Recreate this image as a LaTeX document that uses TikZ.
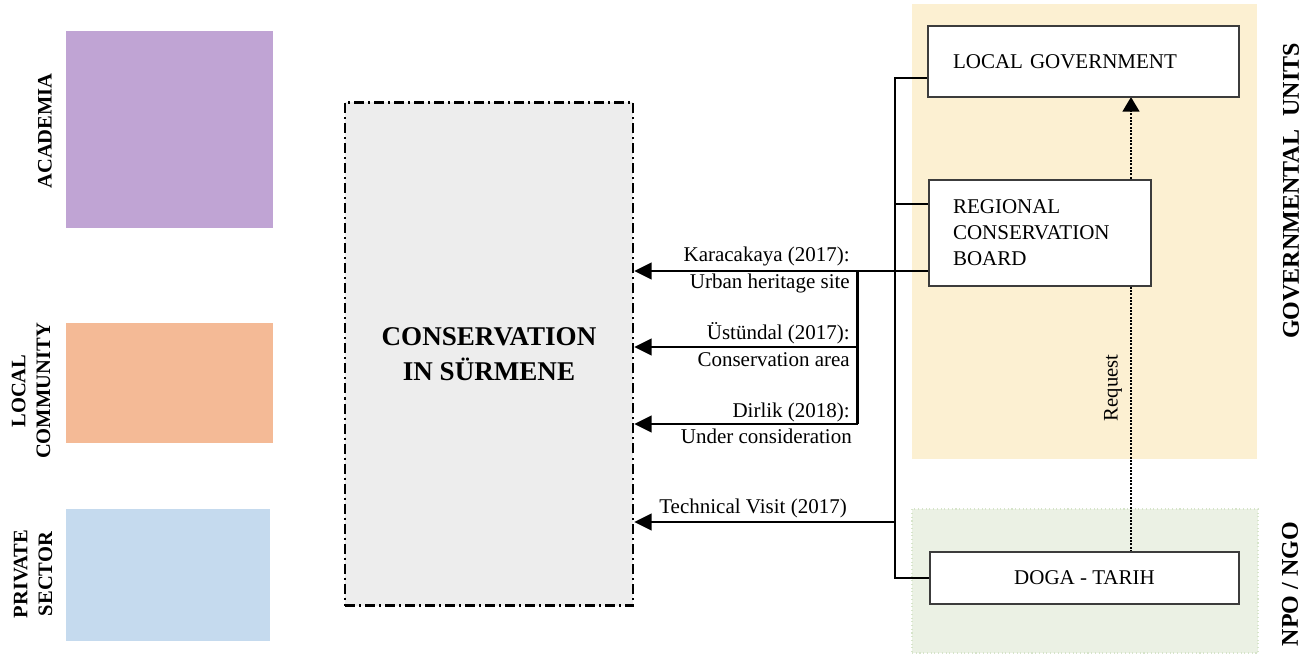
\documentclass[tikz,border=0pt]{standalone}
\usepackage{fontspec}
\setmainfont{Liberation Serif}
\usetikzlibrary{arrows.meta,calc}
\newdimen\pxu \pxu=0.75pt
\definecolor{acadC}{RGB}{192,164,212}
\definecolor{commC}{RGB}{244,186,150}
\definecolor{privC}{RGB}{197,218,238}
\definecolor{consC}{RGB}{237,237,237}
\definecolor{govC}{RGB}{252,240,210}
\definecolor{npoC}{RGB}{235,241,228}
\definecolor{npoLine}{RGB}{214,228,202}
\definecolor{boxLine}{RGB}{60,60,60}
\tikzset{
  actor/.style={draw=none, inner sep=0pt},
  sidelbl/.style={rotate=90, align=center, font=\fontsize{15.4}{18.5}\selectfont\bfseries},
  grouplbl/.style={rotate=90, font=\fontsize{18}{21}\selectfont\bfseries},
  unitbox/.style={draw=boxLine, line width=0.8pt, fill=white, align=left,
    font=\fontsize{15.75}{19.5}\selectfont},
  conn/.style={line width=1.8pt, draw=black},
  arr/.style={conn, -{Triangle[length=13pt,width=12.5pt]}},
  req/.style={line width=2pt, dash pattern=on 1.5pt off 1pt,
    -{Triangle[length=11pt,width=12.5pt]}},
  note/.style={font=\fontsize{15.75}{19}\selectfont, inner sep=0pt}
}
\begin{document}
\begin{tikzpicture}[x=0.75pt, y=-0.75pt]
\useasboundingbox (0,0) rectangle (1309,655);

% stakeholder blocks on the left
\node[actor, fill=acadC, minimum width=207\pxu, minimum height=197\pxu] (acad) at (169.5,129.5) {};
\node[actor, fill=commC, minimum width=207\pxu, minimum height=120\pxu] (comm) at (169.5,383) {};
\node[actor, fill=privC, minimum width=204\pxu, minimum height=132\pxu] (priv) at (168,575) {};
\node[sidelbl] (acadL) at (45,131) {ACADEMIA};
\node[sidelbl] (commL) at (31,391) {LOCAL\\COMMUNITY};
\node[sidelbl] (privL) at (33,574) {PRIVATE\\SECTOR};

% central subject
\node[draw=black, fill=consC, line width=2pt,
      dash pattern=on 7.5pt off 3pt on 1.5pt off 3pt,
      minimum width=288\pxu, minimum height=503\pxu, align=center,
      font=\fontsize{20.3}{26}\selectfont\bfseries] (cons) at (489,354)
      {CONSERVATION\\IN SÜRMENE};

% institutional groups on the right
\node[actor, fill=govC, minimum width=345\pxu, minimum height=455\pxu] (gov) at (1084.5,231.5) {};
\node[draw=npoLine, fill=npoC, dotted, line width=0.8pt, inner sep=0pt,
      minimum width=346\pxu, minimum height=144\pxu] (npo) at (1085,581) {};
\node[grouplbl] (govL) at (1291,191) {GOVERNMENTAL\hspace{0.3em} UNITS};
\node[grouplbl] (npoL) at (1290,584) {NPO / NGO};

% request from the NGO to the local government
\coordinate (reqA) at (1131,552);
\coordinate (reqB) at (1131,97);
\draw[req] (reqA) -- (reqB);
\node[rotate=90, font=\fontsize{15.5}{18}\selectfont, inner sep=0pt] (reqL) at (1113,388) {Request};

% institutions
\node[unitbox, inner xsep=25\pxu, text width=261\pxu, minimum height=71\pxu] (lg) at (1083.5,61.5) {LOCAL GOVERNMENT};
\node[unitbox, inner xsep=24\pxu, text width=174\pxu, minimum height=106\pxu] (rcb) at (1040,233) {REGIONAL\\CONSERVATION\\BOARD};
\node[unitbox, align=center, minimum width=309\pxu, minimum height=52\pxu] (doga) at (1084.5,578) {DOGA - TARIH};

% organisational bus
\coordinate (busTop) at (895,78);
\coordinate (busRcb) at (895,204);
\coordinate (busTech) at (895,522);
\coordinate (busBot) at (895,578);
\draw[conn] (lg.west |- busTop) -- (busTop) -- (busBot) -- (doga.west);
\draw[conn] (busRcb) -- (rcb.west |- busRcb);

% decisions of the regional board
\coordinate (kTop) at (857.5,271);
\coordinate (kMid) at (857.5,347);
\coordinate (kBot) at (857.5,424);
\draw[arr] (rcb.west |- kTop) -- (cons.east |- kTop);
\draw[conn] (kTop) -- (kBot);
\draw[arr] (kMid) -- (cons.east |- kMid);
\draw[arr] (kBot) -- (cons.east |- kBot);
\draw[arr] (busTech) -- (cons.east |- busTech);

% labels on the decision arrows
\node[note, anchor=base east] (k1a) at (850,262) {Karacakaya (2017):};
\node[note, anchor=base east] (k1b) at (850,289) {Urban heritage site};
\node[note, anchor=base east] (k2a) at (850,340) {Üstündal (2017):};
\node[note, anchor=base east] (k2b) at (850,367) {Conservation area};
\node[note, anchor=base east] (k3a) at (850,418) {Dirlik (2018):};
\node[note, anchor=base east] (k3b) at (852,444) {Under consideration};
\node[note, anchor=base east] (tv) at (847,513) {Technical Visit (2017)};
\end{tikzpicture}
\end{document}
